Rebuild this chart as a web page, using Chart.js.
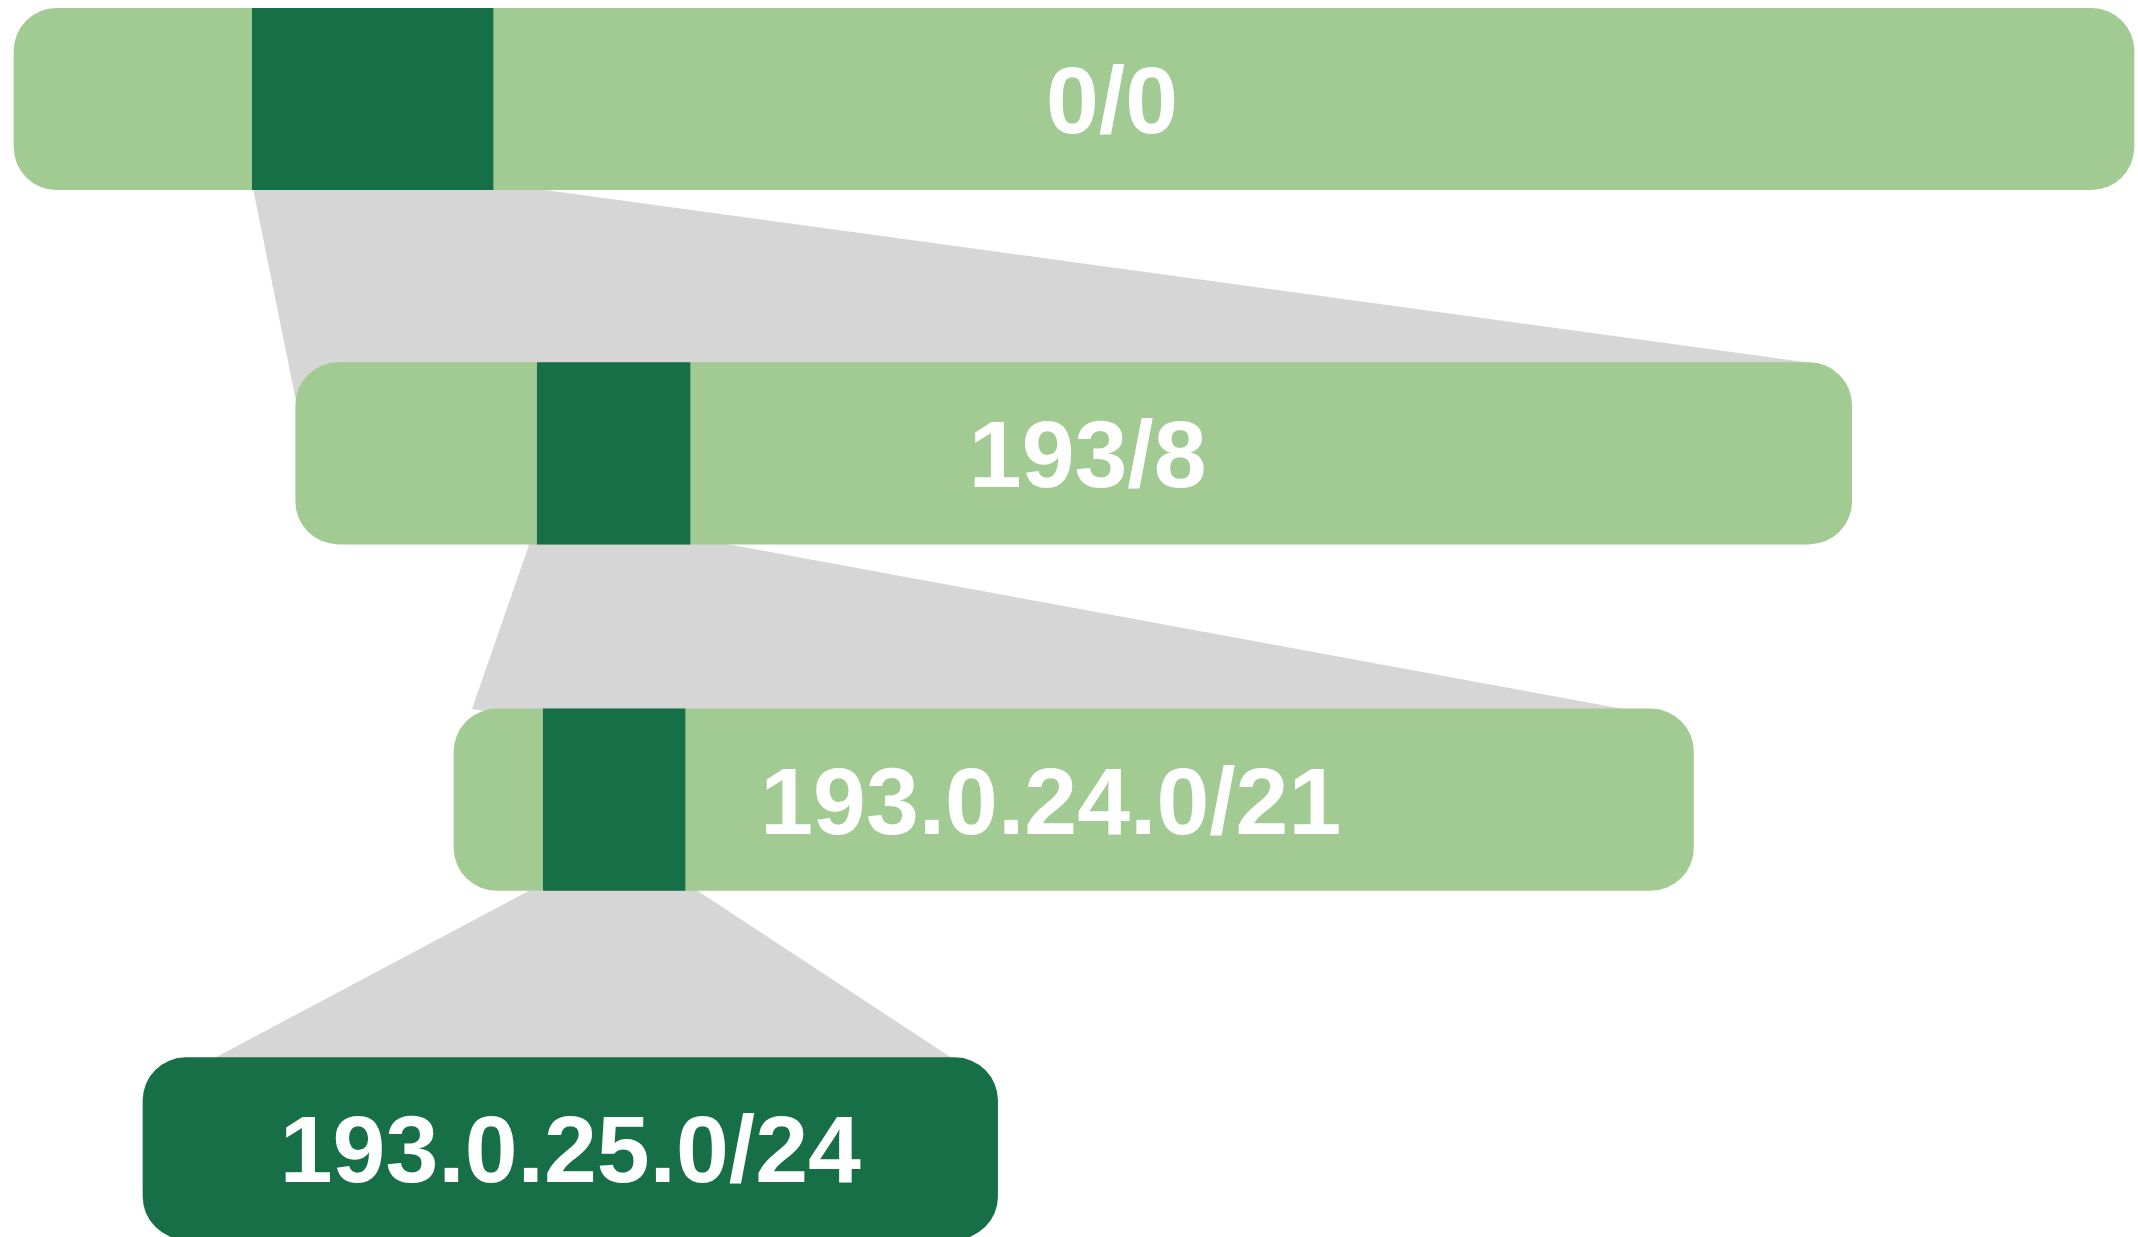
<!DOCTYPE html>
<html>
<head>
<meta charset="utf-8">
<script src="https://cdn.jsdelivr.net/npm/chart.js@4/dist/chart.umd.min.js"></script>
<style>
  html, body { margin: 0; padding: 0; background: #ffffff; }
  #wrap { width: 2138px; height: 1237px; position: relative; }
</style>
</head>
<body>
<div id="wrap"><canvas id="c"></canvas></div>
<script>
// ---- data (abstract layout units on a 0..2138 x 0..1237 value grid) ----
const prefixes    = ['0/0', '193/8', '193.0.24.0/21', '193.0.25.0/24'];
const rowPos      = [99, 453.35, 799.65, 1148.4];
const rangeStart  = [14, 295.7, 454, 143];
const rangeEnd    = [2134, 1851.7, 1693.5, 997.6];
const subStart    = [252.3, 537.3, 543.3];
const subEnd      = [493, 690, 685];
// zoom connectors: x where the edges leave the upper bar and reach the next bar's top line
const zoomFromStart = [253.3, 529.3, 530];
const zoomFromEnd   = [543.3, 726.7, 696.7];
const zoomToStart   = [288.2, 472, 215];
const zoomToEnd     = [1810, 1623.3, 951.5];

// ---- styling ----
const LIGHT = '#a2ca93';
const DARK  = '#166f46';
const GRAY  = '#d6d6d6';
const HALF  = 90.7;          // half lane thickness in value units
const RADIUS = 43;
const LABEL_FONT = 'bold 95px "Liberation Sans"';
const LABEL_SIZE = 95;
const LABEL_SHIFT = [38, 14, -23, 0];

// build bar datasets
const prefixBars = prefixes.map((p, i) => ({ x: [rangeStart[i], rangeEnd[i]], y: rowPos[i] }));
const subBars = subStart.map((s, i) => ({ x: [s, subEnd[i]], y: rowPos[i] }));

// build connector polygons (hidden tail ends inside the next bar)
function connector(i) {
  const yTop = rowPos[i] + HALF;          // bottom edge of upper bar
  const yBot = rowPos[i + 1] - HALF;      // top edge of lower bar
  const left = rangeStart[i + 1];
  let ex = zoomToStart[i], ey = yBot;
  if (ex < left) {
    const t = (zoomFromStart[i] - left) / (zoomFromStart[i] - zoomToStart[i]);
    ex = left;
    ey = yTop + t * (yBot - yTop);
  }
  return [
    { x: zoomFromStart[i], y: yTop },
    { x: zoomFromEnd[i], y: yTop },
    { x: zoomToEnd[i], y: yBot },
    { x: (rangeStart[i + 1] + rangeEnd[i + 1]) / 2, y: rowPos[i + 1] },
    { x: ex, y: ey }
  ];
}

const connectorSets = [0, 1, 2].map(i => ({
  type: 'line',
  label: 'zoom ' + (i + 1),
  data: connector(i),
  indexAxis: 'x',
  parsing: false,
  borderWidth: 0,
  borderColor: 'rgba(0,0,0,0)',
  backgroundColor: GRAY,
  pointRadius: 0,
  tension: 0,
  fill: 'shape',
  order: 3
}));

const labelPlugin = {
  id: 'prefixLabels',
  afterDraw(chart) {
    const meta = chart.getDatasetMeta(0);
    const ctx = chart.ctx;
    ctx.save();
    ctx.setTransform(1, 0, 0, 1, 0, 0);
    ctx.font = LABEL_FONT;
    ctx.fillStyle = '#ffffff';
    ctx.textAlign = 'left';
    ctx.textBaseline = 'alphabetic';
    meta.data.forEach((bar, i) => {
      const w = ctx.measureText(prefixes[i]).width;
      const cx = (bar.x + bar.base) / 2 + LABEL_SHIFT[i];
      ctx.fillText(prefixes[i], cx - w / 2, bar.y + LABEL_SIZE * 0.358);
    });
    ctx.restore();
  }
};

new Chart(document.getElementById('c'), {
  type: 'bar',
  data: {
    datasets: [
      {
        label: 'prefix',
        data: prefixBars,
        backgroundColor: [LIGHT, LIGHT, LIGHT, DARK],
        borderRadius: RADIUS,
        borderSkipped: false,
        borderWidth: 0,
        barThickness: 2 * HALF,
        grouped: false,
        order: 2
      },
      {
        label: 'more specific',
        data: subBars,
        backgroundColor: DARK,
        borderRadius: 0,
        borderSkipped: false,
        borderWidth: 0,
        barThickness: 2 * HALF,
        grouped: false,
        order: 1
      },
      ...connectorSets
    ]
  },
  options: {
    indexAxis: 'y',
    responsive: true,
    maintainAspectRatio: false,
    devicePixelRatio: 1,
    animation: false,
    events: [],
    layout: { padding: 0 },
    scales: {
      x: { type: 'linear', min: 0, max: 2138, display: false, offset: false, grid: { display: false } },
      y: { type: 'linear', min: 0, max: 1237, reverse: true, display: false, offset: false, grid: { display: false } }
    },
    plugins: {
      legend: { display: false },
      tooltip: { enabled: false },
      title: { display: false }
    }
  },
  plugins: [labelPlugin]
});
</script>
</body>
</html>
